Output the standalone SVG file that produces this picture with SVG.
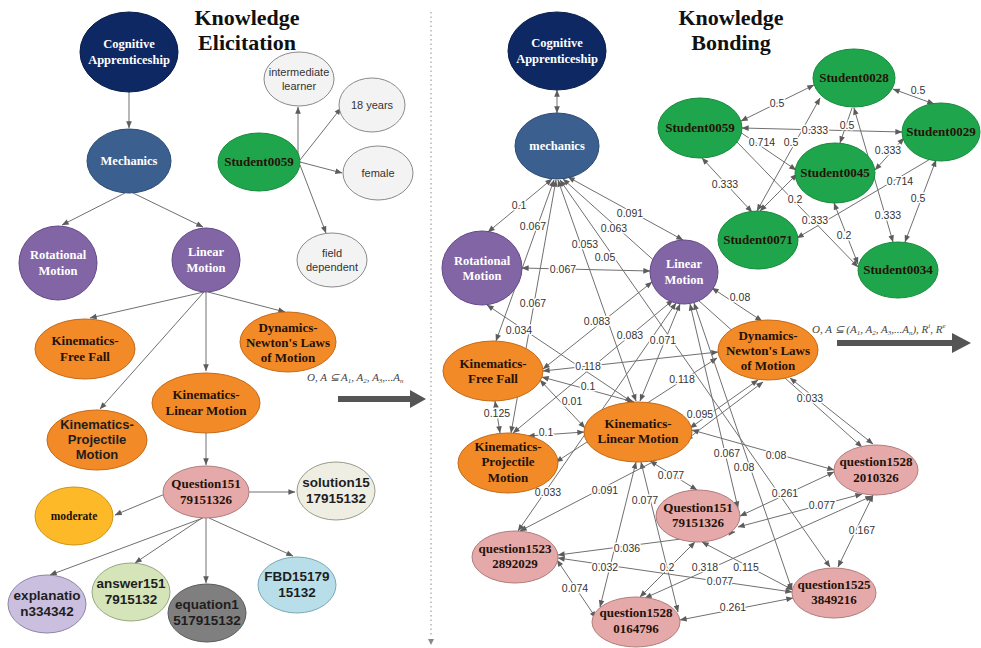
<svg xmlns="http://www.w3.org/2000/svg" width="981" height="648" viewBox="0 0 981 648">
<defs>
<marker id="ah" viewBox="0 0 10 10" refX="9.5" refY="5" markerWidth="8" markerHeight="7" markerUnits="userSpaceOnUse" orient="auto-start-reverse"><path d="M0,1 L10,5 L0,9 z" fill="#5c5c5c"/></marker>
<style>
.e{stroke:#707070;stroke-width:1;fill:none}
.a{marker-end:url(#ah)}
.b{marker-start:url(#ah);marker-end:url(#ah)}
.l{font-family:"Liberation Sans",Arial,sans-serif;font-size:10.5px;fill:#333;text-anchor:middle;stroke:#fff;stroke-width:3;paint-order:stroke;stroke-linejoin:round}
.tw{font-family:"Liberation Serif","Times New Roman",serif;font-weight:bold;font-size:12.5px;fill:#fff;text-anchor:middle}
.td{font-family:"Liberation Serif","Times New Roman",serif;font-weight:bold;font-size:13px;fill:#241208;text-anchor:middle}
.ts{font-family:"Liberation Sans",Arial,sans-serif;font-size:11px;fill:#333;text-anchor:middle}
.tb{font-family:"Liberation Sans",Arial,sans-serif;font-weight:bold;font-size:13.5px;fill:#1e1e1e;text-anchor:middle}
.title{font-family:"Liberation Serif","Times New Roman",serif;font-weight:bold;font-size:22px;fill:#111;text-anchor:middle}
.f{font-family:"Liberation Serif","Times New Roman",serif;font-style:italic;font-size:11px;fill:#444}
.navy{fill:#0e2863;stroke:#0a1d4a}
.mech{fill:#3b5f8f;stroke:#2c4a73}
.pur{fill:#8165a5;stroke:#65498a}
.org{fill:#f28a28;stroke:#c56a18}
.grn{fill:#1fa64c;stroke:#168a3c}
.pnk{fill:#e5a9a9;stroke:#b07c7c}
.gry{fill:#f3f3f3;stroke:#8a8a8a}
</style>
</defs>
<rect width="981" height="648" fill="#fff"/>

<!-- titles -->
<text class="title" x="247" y="25">Knowledge</text>
<text class="title" x="247" y="50">Elicitation</text>
<text class="title" x="731" y="25">Knowledge</text>
<text class="title" x="731" y="50">Bonding</text>

<!-- divider -->
<line x1="431" y1="12" x2="431" y2="637" stroke="#a0a0a0" stroke-width="1.2" stroke-dasharray="1.5,3"/>
<path d="M428,639 L434,639 L431,645 z" fill="#888"/>

<!-- formulas and big arrows -->
<text class="f" x="307" y="381">O, A ⊆ A<tspan font-size="7" dy="2">1</tspan><tspan dy="-2">, A</tspan><tspan font-size="7" dy="2">2</tspan><tspan dy="-2">, A</tspan><tspan font-size="7" dy="2">3</tspan><tspan dy="-2">,...A</tspan><tspan font-size="7" dy="2">n</tspan></text>
<path d="M338,396 L410,396 L410,390 L426,399 L410,408 L410,402 L338,402 z" fill="#555"/>
<text class="f" x="812" y="333">O, A ⊆ (A<tspan font-size="7" dy="2">1</tspan><tspan dy="-2">, A</tspan><tspan font-size="7" dy="2">2</tspan><tspan dy="-2">, A</tspan><tspan font-size="7" dy="2">3</tspan><tspan dy="-2">,...A</tspan><tspan font-size="7" dy="2">n</tspan><tspan dy="-2">), R</tspan><tspan font-size="7" dy="-5">i</tspan><tspan dy="5">, R</tspan><tspan font-size="7" dy="-5">e</tspan></text>
<path d="M837,340 L952,340 L952,333 L971,343 L952,353 L952,346 L837,346 z" fill="#555"/>

<!-- connectors -->
<g id="connectors">
<!-- left graph -->
<line class="e a" x1="129" y1="92" x2="129" y2="128"/>
<line class="e a" x1="125" y1="193" x2="62" y2="225"/>
<line class="e a" x1="133" y1="193" x2="203" y2="227"/>
<line class="e a" x1="204" y1="292" x2="90" y2="318"/>
<line class="e a" x1="204" y1="292" x2="100" y2="409"/>
<line class="e a" x1="206" y1="292" x2="206" y2="371"/>
<line class="e a" x1="208" y1="292" x2="285" y2="312"/>
<line class="e a" x1="206" y1="433" x2="206" y2="465"/>
<line class="e a" x1="249" y1="492" x2="295" y2="492"/>
<line class="e a" x1="165" y1="494" x2="115" y2="515"/>
<line class="e a" x1="203" y1="518" x2="50" y2="575"/>
<line class="e a" x1="202" y1="518" x2="135" y2="563"/>
<line class="e a" x1="206" y1="518" x2="206" y2="583"/>
<line class="e a" x1="209" y1="518" x2="293" y2="556"/>
<line class="e a" x1="298" y1="160" x2="298" y2="107"/>
<line class="e a" x1="300" y1="160" x2="341" y2="108"/>
<line class="e a" x1="300" y1="162" x2="342" y2="173"/>
<line class="e a" x1="300" y1="165" x2="326" y2="233"/>

<!-- student graph -->
<line class="e b" x1="741" y1="121" x2="814" y2="85"/>
<line class="e b" x1="893" y1="89" x2="934" y2="104"/>
<line class="e b" x1="742" y1="128" x2="902" y2="132"/>
<line class="e a" x1="852" y1="108" x2="840" y2="143"/>
<line class="e a" x1="740" y1="132" x2="796" y2="170"/>
<line class="e b" x1="820" y1="98" x2="757" y2="211"/>
<line class="e b" x1="702" y1="158" x2="752" y2="212"/>
<line class="e a" x1="737" y1="142" x2="858" y2="267"/>
<line class="e b" x1="875" y1="170" x2="904" y2="138"/>
<line class="e a" x1="932" y1="158" x2="797" y2="238"/>
<line class="e b" x1="936" y1="160" x2="905" y2="242"/>
<line class="e b" x1="854" y1="108" x2="893" y2="242"/>
<line class="e b" x1="760" y1="211" x2="797" y2="174"/>
<line class="e b" x1="834" y1="203" x2="858" y2="264"/>

<!-- right graph -->
<line class="e b" x1="552" y1="179" x2="488" y2="232"/>
<line class="e b" x1="554" y1="180" x2="496" y2="341"/>
<line class="e b" x1="556" y1="180" x2="511" y2="433"/>
<line class="e b" x1="558" y1="180" x2="636" y2="401"/>
<line class="e b" x1="560" y1="180" x2="830" y2="567"/>
<line class="e b" x1="563" y1="179" x2="862" y2="447"/>
<line class="e b" x1="568" y1="177" x2="683" y2="240"/>
<line class="e b" x1="522" y1="268" x2="650" y2="271"/>
<line class="e b" x1="487" y1="305" x2="632" y2="402"/>
<line class="e b" x1="712" y1="288" x2="762" y2="321"/>
<line class="e b" x1="652" y1="282" x2="543" y2="369"/>
<line class="e b" x1="673" y1="300" x2="513" y2="433"/>
<line class="e b" x1="680" y1="304" x2="640" y2="401"/>
<line class="e b" x1="717" y1="358" x2="556" y2="462"/>
<line class="e b" x1="543" y1="371" x2="718" y2="352"/>
<line class="e b" x1="542" y1="377" x2="634" y2="402"/>
<line class="e b" x1="540" y1="380" x2="585" y2="428"/>
<line class="e b" x1="495" y1="401" x2="500" y2="433"/>
<line class="e b" x1="528" y1="436" x2="584" y2="432"/>
<line class="e b" x1="690" y1="428" x2="758" y2="380"/>
<line class="e b" x1="686" y1="440" x2="763" y2="382"/>
<line class="e b" x1="650" y1="461" x2="697" y2="490"/>
<line class="e b" x1="641" y1="462" x2="678" y2="612"/>
<line class="e b" x1="636" y1="462" x2="600" y2="607"/>
<line class="e b" x1="672" y1="452" x2="520" y2="531"/>
<line class="e b" x1="676" y1="303" x2="518" y2="531"/>
<line class="e b" x1="558" y1="555" x2="735" y2="532"/>
<line class="e b" x1="738" y1="527" x2="862" y2="494"/>
<line class="e b" x1="740" y1="516" x2="834" y2="472"/>
<line class="e b" x1="692" y1="430" x2="834" y2="470"/>
<line class="e b" x1="690" y1="304" x2="738" y2="508"/>
<line class="e b" x1="694" y1="303" x2="792" y2="590"/>
<line class="e b" x1="702" y1="542" x2="793" y2="590"/>
<line class="e b" x1="558" y1="558" x2="792" y2="592"/>
<line class="e b" x1="680" y1="620" x2="793" y2="598"/>
<line class="e b" x1="557" y1="560" x2="596" y2="618"/>
<line class="e b" x1="873" y1="495" x2="838" y2="567"/>
<line class="e b" x1="790" y1="378" x2="873" y2="444"/>
<line class="e b" x1="640" y1="597" x2="695" y2="542"/>
<line class="e b" x1="645" y1="598" x2="872" y2="496"/>
<line class="e b" x1="557" y1="90" x2="557" y2="113"/>
</g>

<!-- connector labels -->
<g id="labels">
<text class="l" x="777" y="107">0.5</text>
<text class="l" x="918" y="94">0.5</text>
<text class="l" x="815" y="134">0.333</text>
<text class="l" x="847" y="129">0.5</text>
<text class="l" x="762" y="146">0.714</text>
<text class="l" x="791" y="146">0.5</text>
<text class="l" x="725" y="188">0.333</text>
<text class="l" x="795" y="203">0.2</text>
<text class="l" x="888" y="154">0.333</text>
<text class="l" x="900" y="185">0.714</text>
<text class="l" x="918" y="202">0.5</text>
<text class="l" x="888" y="219">0.333</text>
<text class="l" x="815" y="224">0.333</text>
<text class="l" x="844" y="239">0.2</text>

<text class="l" x="519" y="209">0.1</text>
<text class="l" x="533" y="230">0.067</text>
<text class="l" x="533" y="307">0.067</text>
<text class="l" x="585" y="248">0.053</text>
<text class="l" x="605" y="261">0.05</text>
<text class="l" x="614" y="232">0.063</text>
<text class="l" x="630" y="217">0.091</text>
<text class="l" x="563" y="273">0.067</text>
<text class="l" x="519" y="334">0.034</text>
<text class="l" x="740" y="301">0.08</text>
<text class="l" x="597" y="325">0.083</text>
<text class="l" x="630" y="339">0.083</text>
<text class="l" x="663" y="344">0.071</text>
<text class="l" x="682" y="383">0.118</text>
<text class="l" x="588" y="370">0.118</text>
<text class="l" x="588" y="390">0.1</text>
<text class="l" x="572" y="405">0.01</text>
<text class="l" x="497" y="417">0.125</text>
<text class="l" x="546" y="436">0.1</text>
<text class="l" x="700" y="418">0.095</text>
<text class="l" x="671" y="479">0.077</text>
<text class="l" x="645" y="504">0.077</text>
<text class="l" x="605" y="494">0.091</text>
<text class="l" x="548" y="496">0.033</text>
<text class="l" x="627" y="552">0.036</text>
<text class="l" x="822" y="509">0.077</text>
<text class="l" x="785" y="497">0.261</text>
<text class="l" x="776" y="459">0.08</text>
<text class="l" x="727" y="457">0.067</text>
<text class="l" x="744" y="471">0.08</text>
<text class="l" x="746" y="571">0.115</text>
<text class="l" x="605" y="571">0.032</text>
<text class="l" x="720" y="585">0.077</text>
<text class="l" x="733" y="611">0.261</text>
<text class="l" x="575" y="592">0.074</text>
<text class="l" x="862" y="534">0.167</text>
<text class="l" x="810" y="402">0.033</text>
<text class="l" x="667" y="571">0.2</text>
<text class="l" x="705" y="571">0.318</text>
</g>

<!-- left nodes -->
<g id="ca1"><ellipse class="navy" cx="129" cy="52" rx="49" ry="40"/><text class="tw" x="129" y="48">Cognitive</text><text class="tw" x="129" y="64">Apprenticeship</text></g>
<g id="mech1"><ellipse class="mech" cx="129" cy="161" rx="42" ry="32"/><text class="tw" x="129" y="165">Mechanics</text></g>
<g id="rot1"><ellipse class="pur" cx="58" cy="263" rx="39" ry="37"/><text class="tw" x="58" y="259">Rotational</text><text class="tw" x="58" y="275">Motion</text></g>
<g id="lin1"><ellipse class="pur" cx="206" cy="260" rx="34" ry="32"/><text class="tw" x="206" y="256">Linear</text><text class="tw" x="206" y="272">Motion</text></g>
<g id="ff1"><ellipse class="org" cx="85" cy="349" rx="50" ry="30"/><text class="td" x="85" y="345">Kinematics-</text><text class="td" x="85" y="361">Free Fall</text></g>
<g id="dyn1"><ellipse class="org" cx="288" cy="342" rx="48" ry="30"/><text class="td" x="288" y="332">Dynamics-</text><text class="td" x="288" y="347">Newton's Laws</text><text class="td" x="288" y="362">of Motion</text></g>
<g id="klm1"><ellipse class="org" cx="206" cy="403" rx="54" ry="30"/><text class="td" x="206" y="399">Kinematics-</text><text class="td" x="206" y="415">Linear Motion</text></g>
<g id="proj1"><ellipse class="org" cx="97" cy="440" rx="50" ry="30"/><text class="tb" x="97" y="429" style="font-size:13px">Kinematics-</text><text class="tb" x="97" y="444" style="font-size:13px">Projectile</text><text class="tb" x="97" y="459" style="font-size:13px">Motion</text></g>
<g id="q151a"><ellipse class="pnk" cx="206" cy="492" rx="43" ry="26"/><text class="td" x="206" y="488">Question151</text><text class="td" x="206" y="504">79151326</text></g>
<g id="sol"><ellipse cx="336" cy="491" rx="39" ry="29" fill="#efeee3" stroke="#9a9a8a"/><text class="tb" x="336" y="487">solution15</text><text class="tb" x="336" y="503">17915132</text></g>
<g id="mod"><ellipse cx="74" cy="516" rx="39" ry="29" fill="#fdb927" stroke="#cf9414"/><text class="td" x="74" y="520" style="font-size:11.5px">moderate</text></g>
<g id="expl"><ellipse cx="47" cy="604" rx="39" ry="29" fill="#cbbfdf" stroke="#8f84a8"/><text class="tb" x="47" y="600">explanatio</text><text class="tb" x="47" y="616">n334342</text></g>
<g id="ans"><ellipse cx="131" cy="592" rx="39" ry="29" fill="#d6e4b9" stroke="#96a880"/><text class="tb" x="131" y="588">answer151</text><text class="tb" x="131" y="604">7915132</text></g>
<g id="eq"><ellipse cx="207" cy="613" rx="39" ry="29" fill="#7f7f7f" stroke="#5a5a5a"/><text class="tb" x="207" y="609">equation1</text><text class="tb" x="207" y="625">517915132</text></g>
<g id="fbd"><ellipse cx="297" cy="585" rx="39" ry="28" fill="#b8dfe9" stroke="#7aa7b5"/><text class="tb" x="297" y="581">FBD15179</text><text class="tb" x="297" y="597">15132</text></g>
<g id="st59a"><ellipse class="grn" cx="259" cy="162" rx="41" ry="29"/><text class="td" x="259" y="166">Student0059</text></g>
<g id="intl"><ellipse class="gry" cx="299" cy="79" rx="35" ry="27"/><text class="ts" x="299" y="76">intermediate</text><text class="ts" x="299" y="90">learner</text></g>
<g id="y18"><ellipse class="gry" cx="372" cy="105" rx="33" ry="27"/><text class="ts" x="372" y="109">18 years</text></g>
<g id="fem"><ellipse class="gry" cx="378" cy="173" rx="35" ry="27"/><text class="ts" x="378" y="177">female</text></g>
<g id="fd"><ellipse class="gry" cx="332" cy="260" rx="35" ry="27"/><text class="ts" x="332" y="257">field</text><text class="ts" x="332" y="271">dependent</text></g>

<!-- right nodes -->
<g id="ca2"><ellipse class="navy" cx="557" cy="51" rx="49" ry="39"/><text class="tw" x="557" y="47">Cognitive</text><text class="tw" x="557" y="63">Apprenticeship</text></g>
<g id="mech2"><ellipse class="mech" cx="557" cy="146" rx="42" ry="33"/><text class="tw" x="557" y="150">mechanics</text></g>
<g id="rot2"><ellipse class="pur" cx="482" cy="268" rx="40" ry="37"/><text class="tw" x="482" y="265">Rotational</text><text class="tw" x="482" y="280">Motion</text></g>
<g id="lin2"><ellipse class="pur" cx="684" cy="272" rx="34" ry="32"/><text class="tw" x="684" y="268">Linear</text><text class="tw" x="684" y="284">Motion</text></g>
<g id="ff2"><ellipse class="org" cx="493" cy="371" rx="50" ry="30"/><text class="td" x="493" y="368">Kinematics-</text><text class="td" x="493" y="383">Free Fall</text></g>
<g id="dyn2"><ellipse class="org" cx="768" cy="350" rx="50" ry="30"/><text class="td" x="768" y="340">Dynamics-</text><text class="td" x="768" y="355">Newton's Laws</text><text class="td" x="768" y="370">of Motion</text></g>
<g id="klm2"><ellipse class="org" cx="638" cy="432" rx="54" ry="30"/><text class="td" x="638" y="428">Kinematics-</text><text class="td" x="638" y="443">Linear Motion</text></g>
<g id="proj2"><ellipse class="org" cx="508" cy="463" rx="50" ry="30"/><text class="td" x="508" y="451">Kinematics-</text><text class="td" x="508" y="466">Projectile</text><text class="td" x="508" y="482">Motion</text></g>
<g id="q1523"><ellipse class="pnk" cx="515" cy="557" rx="43" ry="26"/><text class="td" x="515" y="553">question1523</text><text class="td" x="515" y="568">2892029</text></g>
<g id="q151b"><ellipse class="pnk" cx="698" cy="516" rx="42" ry="26"/><text class="td" x="698" y="512">Question151</text><text class="td" x="698" y="527">79151326</text></g>
<g id="q1528a"><ellipse class="pnk" cx="636" cy="622" rx="44" ry="25"/><text class="td" x="636" y="617">question1528</text><text class="td" x="636" y="633">0164796</text></g>
<g id="q1528b"><ellipse class="pnk" cx="876" cy="470" rx="42" ry="25"/><text class="td" x="876" y="466">question1528</text><text class="td" x="876" y="482">2010326</text></g>
<g id="q1525"><ellipse class="pnk" cx="834" cy="593" rx="42" ry="25"/><text class="td" x="834" y="589">question1525</text><text class="td" x="834" y="604">3849216</text></g>

<g id="s28"><ellipse class="grn" cx="854" cy="78" rx="41" ry="29"/><text class="td" x="854" y="82">Student0028</text></g>
<g id="s59"><ellipse class="grn" cx="700" cy="128" rx="42" ry="30"/><text class="td" x="700" y="132">Student0059</text></g>
<g id="s29"><ellipse class="grn" cx="941" cy="132" rx="39" ry="29"/><text class="td" x="941" y="136">Student0029</text></g>
<g id="s45"><ellipse class="grn" cx="835" cy="173" rx="40" ry="30"/><text class="td" x="835" y="177">Student0045</text></g>
<g id="s71"><ellipse class="grn" cx="758" cy="240" rx="40" ry="29"/><text class="td" x="758" y="244">Student0071</text></g>
<g id="s34"><ellipse class="grn" cx="898" cy="270" rx="40" ry="28"/><text class="td" x="898" y="274">Student0034</text></g>
</svg>
